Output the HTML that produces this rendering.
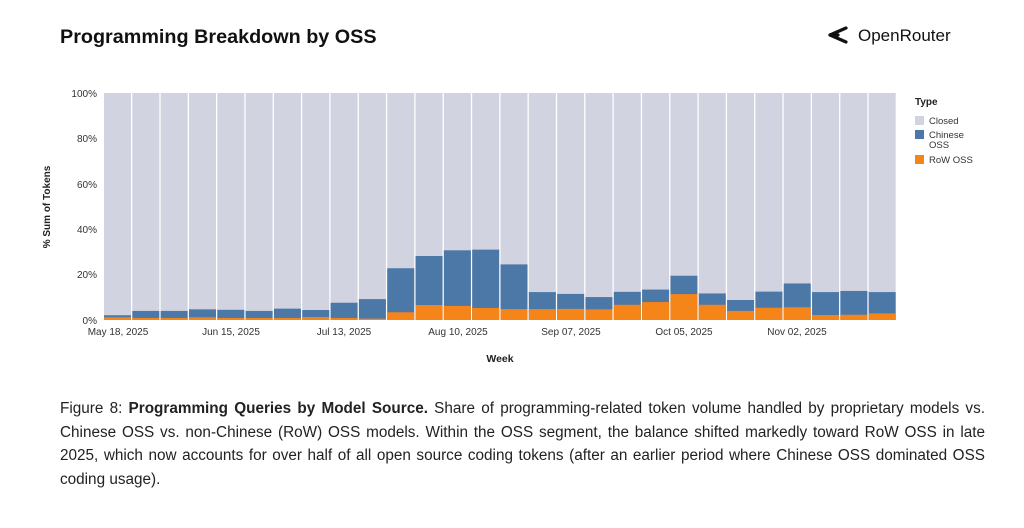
<!DOCTYPE html>
<html><head><meta charset="utf-8"><style>
body{margin:0;width:1024px;height:528px;background:#fff;font-family:"Liberation Sans",sans-serif;overflow:hidden;position:relative}
.cap{position:absolute;left:60px;top:397px;width:925px;font-size:15.3px;line-height:23.6px;color:#222;text-align:justify}
</style></head><body>
<svg width="1024" height="390" style="position:absolute;left:0;top:0" font-family="Liberation Sans, sans-serif">
<text x="60" y="43" font-size="19.8" font-weight="bold" fill="#111">Programming Breakdown by OSS</text>
<g fill="none" stroke="#111" stroke-width="3.2" stroke-linejoin="round" stroke-linecap="round">
<path d="M846 28 L830 35 L846 42"/><path d="M830 35 L838 35"/>
</g>
<text x="858" y="41" font-size="17" fill="#111">OpenRouter</text>
<g id="bars"></g>
<g font-size="10" fill="#333" text-anchor="end">
<text x="97" y="97">100%</text><text x="97" y="142">80%</text><text x="97" y="188">60%</text><text x="97" y="233">40%</text><text x="97" y="278">20%</text><text x="97" y="324">0%</text>
</g>
<text transform="translate(50,207) rotate(-90)" font-size="10" font-weight="bold" fill="#222" text-anchor="middle">% Sum of Tokens</text>
<g font-size="10" fill="#333" text-anchor="middle">
<text x="118" y="335">May 18, 2025</text><text x="231" y="335">Jun 15, 2025</text><text x="344" y="335">Jul 13, 2025</text><text x="458" y="335">Aug 10, 2025</text><text x="571" y="335">Sep 07, 2025</text><text x="684" y="335">Oct 05, 2025</text><text x="797" y="335">Nov 02, 2025</text>
</g>
<text x="500" y="362" font-size="10.5" font-weight="bold" fill="#222" text-anchor="middle">Week</text>
<text x="915" y="105" font-size="10" font-weight="bold" fill="#222">Type</text>
<rect x="915" y="116" width="9" height="9" fill="#d1d4e0"/><text x="929" y="124" font-size="9.5" fill="#333">Closed</text>
<rect x="915" y="130" width="9" height="9" fill="#4c78a8"/><text x="929" y="138" font-size="9.5" fill="#333">Chinese</text><text x="929" y="148" font-size="9.5" fill="#333">OSS</text>
<rect x="915" y="155" width="9" height="9" fill="#f58518"/><text x="929" y="163" font-size="9.5" fill="#333">RoW OSS</text>
</svg>
<div class="cap">Figure 8: <b>Programming Queries by Model Source.</b> Share of programming-related token volume handled by proprietary models vs. Chinese OSS vs. non-Chinese (RoW) OSS models. Within the OSS segment, the balance shifted markedly toward RoW OSS in late 2025, which now accounts for over half of all open source coding tokens (after an earlier period where Chinese OSS dominated OSS coding usage).</div>
<script>
var t=[2.1,4,4,4.7,4.5,4,5,4.4,7.6,9.2,22.8,28.2,30.7,31,24.5,12.3,11.5,10.1,12.4,13.4,19.5,11.7,8.8,12.5,16.1,12.3,12.8,12.3];
var o=[1.2,.9,.9,1.2,.9,.9,.9,1.3,.9,.6,3.4,6.6,6.2,5.3,4.8,4.8,4.9,4.7,6.7,7.9,11.4,6.7,4,5.4,5.6,2.2,2.3,2.9];
var s='',x0=104,w=793/28,b=320,k=2.27;
for(var i=0;i<28;i++){var x=x0+i*w,ww=w-1.3;
s+='<rect x="'+x+'" y="93" width="'+ww+'" height="227" fill="#d1d4e0"/>';
s+='<rect x="'+x+'" y="'+(b-t[i]*k)+'" width="'+ww+'" height="'+(t[i]*k)+'" fill="#4c78a8"/>';
s+='<rect x="'+x+'" y="'+(b-o[i]*k)+'" width="'+ww+'" height="'+(o[i]*k)+'" fill="#f58518"/>';}
document.getElementById('bars').innerHTML=s;
</script>
</body></html>
